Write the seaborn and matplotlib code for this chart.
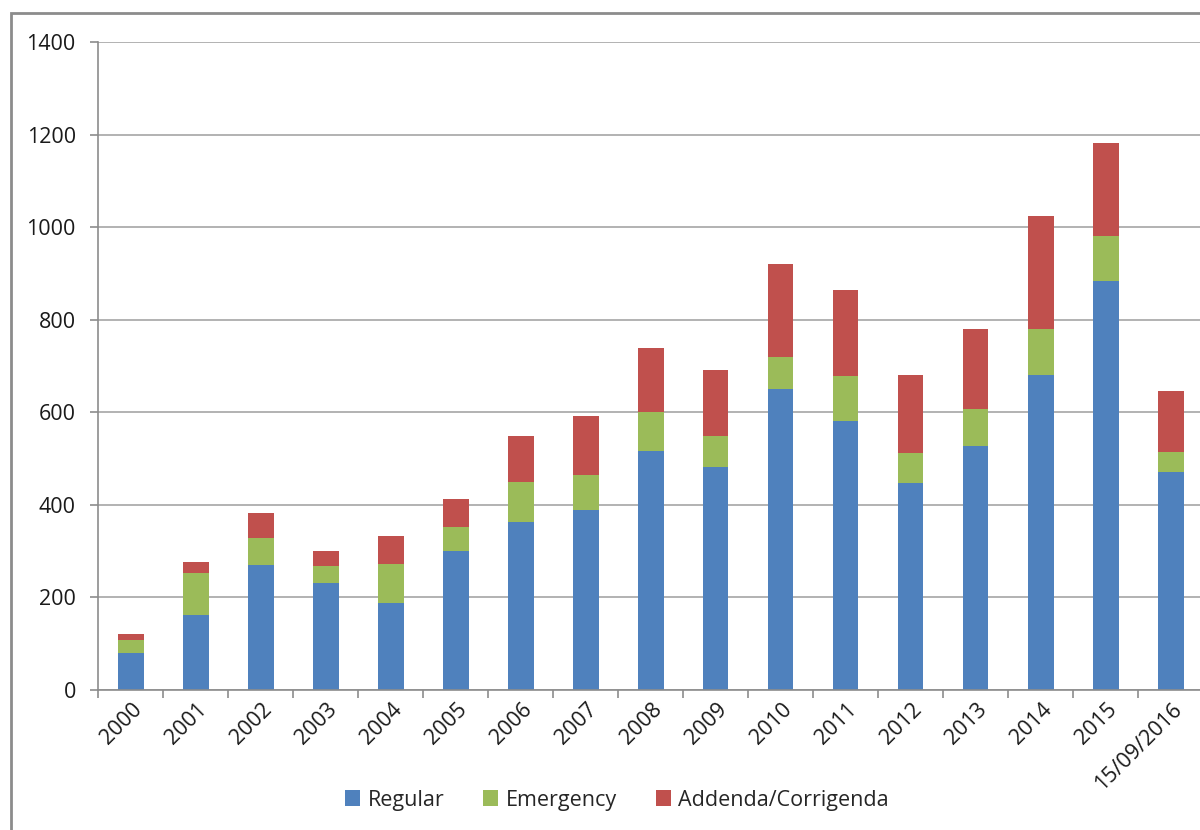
import pandas as pd
import numpy as np
import matplotlib.pyplot as plt
import matplotlib.transforms as mtransforms
from matplotlib.patches import Rectangle, Patch
import seaborn as sns

years = ["2000", "2001", "2002", "2003", "2004", "2005", "2006", "2007", "2008",
         "2009", "2010", "2011", "2012", "2013", "2014", "2015", "15/09/2016"]
regular = [79, 161, 271, 231, 188, 300, 364, 388, 516, 482, 651, 582, 447, 528, 680, 884, 472]
emergency = [29, 91, 58, 37, 85, 53, 85, 77, 85, 66, 69, 96, 65, 80, 99, 97, 43]
addenda = [13, 25, 54, 32, 59, 59, 99, 128, 137, 144, 200, 186, 168, 173, 245, 201, 131]

colors = {"Regular": "#4F81BD", "Emergency": "#9BBB59", "Addenda/Corrigenda": "#C0504D"}

df = pd.DataFrame({"year": years, "Regular": regular,
                   "Emergency": emergency, "Addenda/Corrigenda": addenda})
# cumulative heights for stacking
df["lvl1"] = df["Regular"]
df["lvl2"] = df["Regular"] + df["Emergency"]
df["lvl3"] = df["lvl2"] + df["Addenda/Corrigenda"]

sns.set_style("white")
plt.rcParams['font.family'] = ['Open Sans', 'DejaVu Sans']

fig = plt.figure(figsize=(12, 8.3), dpi=100)
ax = fig.add_axes([98 / 1200, 1 - 690 / 830, 1105 / 1200, 648 / 830])

# draw tallest first so shorter stacks sit on top
for col, name in [("lvl3", "Addenda/Corrigenda"), ("lvl2", "Emergency"), ("lvl1", "Regular")]:
    sns.barplot(data=df, x="year", y=col, color=colors[name], width=0.4,
                saturation=1, ax=ax, edgecolor="none")

ax.set_ylim(0, 1400)
ax.set_xlim(-0.5, len(years) - 0.5)
ax.set_yticks(np.arange(0, 1401, 200))
ax.yaxis.grid(True, color="#a6a6a6", linewidth=1.2)
ax.set_axisbelow(True)
ax.set_xlabel("")
ax.set_ylabel("")

for s in ["top", "right"]:
    ax.spines[s].set_visible(False)
for s in ["left", "bottom"]:
    ax.spines[s].set_color("#8c8c8c")
    ax.spines[s].set_linewidth(1.2)

ax.tick_params(axis="y", left=True, length=6, color="#8c8c8c", width=1.2,
               labelsize=15.5, pad=10, labelcolor="#1a1a1a")
ax.set_xticks(np.arange(-0.5, len(years)), minor=True)
ax.tick_params(axis="x", which="minor", bottom=True, length=6, color="#8c8c8c", width=1.2)
ax.tick_params(axis="x", which="major", bottom=False, length=0, labelsize=15.5,
               pad=12, labelcolor="#1a1a1a")
offset = mtransforms.ScaledTranslation(6 / 72, 0, fig.dpi_scale_trans)
for lab in ax.get_xticklabels():
    lab.set_rotation(45)
    lab.set_ha("right")
    lab.set_va("center")
    lab.set_rotation_mode("anchor")
    lab.set_transform(lab.get_transform() + offset)

handles = [Patch(facecolor=colors[k], edgecolor="none") for k in colors]
fig.legend(handles, list(colors.keys()), loc="center", bbox_to_anchor=(617 / 1200, 1 - 800 / 830),
           ncol=3, frameon=False, fontsize=15.5, handlelength=0.7, handleheight=0.7,
           handletextpad=0.35, columnspacing=1.8)

# outer chart border
fig.patches.append(Rectangle((11 / 1200, -0.05), 1.1, 1 - 13 / 830 + 0.05,
                             transform=fig.transFigure, fill=False,
                             edgecolor="#8c8c8c", linewidth=2))

fig.savefig("out.png", dpi=100)
